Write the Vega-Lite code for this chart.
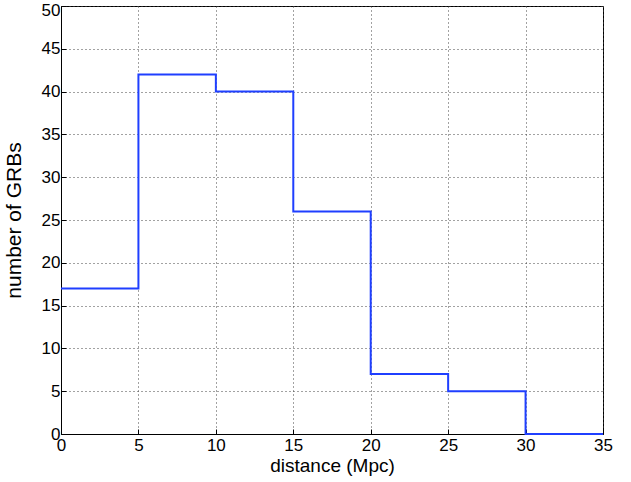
{
  "$schema": "https://vega.github.io/schema/vega-lite/v6.json",
  "width": 542,
  "height": 428,
  "autosize": {"type": "none"},
  "padding": {"left": 61, "top": 6, "right": 28, "bottom": 48},
  "background": "white",
  "config": {
    "view": {"stroke": "black", "strokeWidth": 1},
    "font": "Liberation Sans"
  },
  "data": {
    "values": [
      {"distance": 0, "count": 17},
      {"distance": 5, "count": 42},
      {"distance": 10, "count": 40},
      {"distance": 15, "count": 26},
      {"distance": 20, "count": 7},
      {"distance": 25, "count": 5},
      {"distance": 30, "count": 0},
      {"distance": 35, "count": 0}
    ]
  },
  "mark": {"type": "line", "interpolate": "step-after", "color": "#1f3fff", "strokeWidth": 2, "clip": false},
  "encoding": {
    "x": {
      "field": "distance", "type": "quantitative",
      "scale": {"domain": [0, 35], "nice": false, "zero": false},
      "axis": {
        "title": "distance (Mpc)", "values": [0,5,10,15,20,25,30,35],
        "grid": true, "gridDash": [1,3], "gridColor": "#444", "gridWidth": 1,
        "domainColor": "black", "tickColor": "black", "tickSize": -5,
        "labelFlush": false,
        "labelFontSize": 17, "labelColor": "black", "labelPadding": 8,
        "titleFontSize": 19, "titleFontWeight": "normal", "titleColor": "black", "titlePadding": 3
      }
    },
    "y": {
      "field": "count", "type": "quantitative",
      "scale": {"domain": [0, 50], "nice": false},
      "axis": {
        "title": "number of GRBs", "values": [0,5,10,15,20,25,30,35,40,45,50],
        "grid": true, "gridDash": [1,3], "gridColor": "#444", "gridWidth": 1,
        "domainColor": "black", "tickColor": "black", "tickSize": -5,
        "labelFlush": false,
        "labelFontSize": 17, "labelColor": "black", "labelPadding": 6,
        "labelOffset": {"condition": {"test": "datum.value == 50", "value": 4}, "value": 0},
        "titleFontSize": 21, "titleFontWeight": "normal", "titleColor": "black", "titlePadding": 17
      }
    }
  }
}
